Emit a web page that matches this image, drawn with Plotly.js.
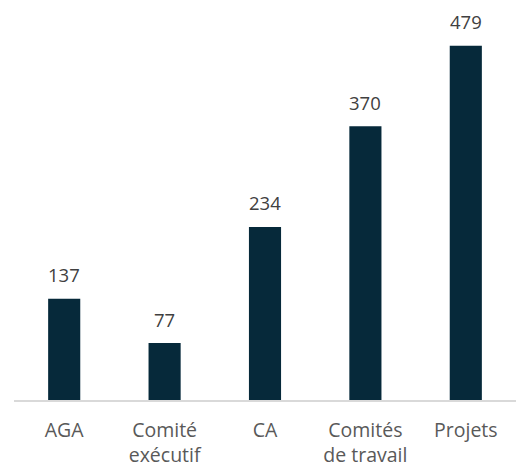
<!DOCTYPE html>
<html><head><meta charset="utf-8">
<script src="https://cdn.plot.ly/plotly-3.0.1.min.js"></script>
<style>html,body{margin:0;padding:0;background:#fff}</style>
</head><body>
<div id="chart" style="width:519px;height:470px"></div>
<script>
const categories = ["AGA", "Comité<br>exécutif", "CA", "Comités<br>de travail", "Projets"];
const values = [137, 77, 234, 370, 479];

const annotations = categories.map((c, i) => ({
  x: c, y: values[i], xref: "x", yref: "y",
  text: String(values[i]), showarrow: false,
  yanchor: "middle", yshift: 24,
  font: {family: "'Open Sans', sans-serif", size: 18.5, color: "#404040"}
}));

Plotly.newPlot("chart", [{
  type: "bar",
  x: categories,
  y: values,
  marker: {color: "#06293a"},
  hoverinfo: "none"
}], {
  width: 519, height: 470,
  margin: {l: 14, r: 3, t: 20, b: 70},
  bargap: 0.68,
  showlegend: false,
  paper_bgcolor: "#fff", plot_bgcolor: "#fff",
  annotations: annotations,
  xaxis: {
    showline: true, linecolor: "#d9d9d9", linewidth: 1.5,
    ticks: "", showgrid: false, zeroline: false,
    tickfont: {family: "'Open Sans', sans-serif", size: 19.5, color: "#595959"},
    ticklabelstandoff: 12,
    automargin: false
  },
  yaxis: {
    range: [0, 513.7], visible: false, showgrid: false, zeroline: false
  }
}, {displayModeBar: false, staticPlot: true});
</script>
</body></html>
